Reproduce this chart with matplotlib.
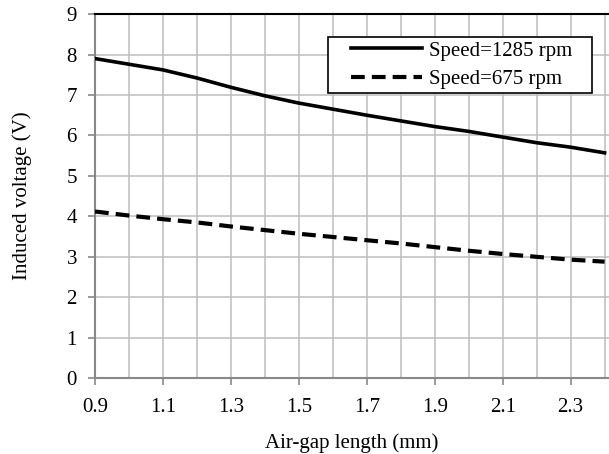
import numpy as np
import matplotlib.pyplot as plt
from matplotlib.lines import Line2D
from matplotlib.legend_handler import HandlerLine2D

gap = [0.9, 1.0, 1.1, 1.2, 1.3, 1.4, 1.5, 1.6, 1.7, 1.8, 1.9, 2.0, 2.1, 2.2, 2.3, 2.4]
v_1285 = [7.90, 7.76, 7.62, 7.42, 7.19, 6.98, 6.80, 6.65, 6.50, 6.36, 6.22, 6.10, 5.96, 5.82, 5.71, 5.57]
v_675 = [4.12, 4.02, 3.93, 3.85, 3.75, 3.66, 3.57, 3.49, 3.41, 3.33, 3.24, 3.15, 3.07, 3.00, 2.93, 2.88]
xticks = [0.9, 1.1, 1.3, 1.5, 1.7, 1.9, 2.1, 2.3]

plt.rcParams['font.family'] = ['Liberation Serif', 'DejaVu Serif']
plt.rcParams['font.size'] = 15

fig = plt.figure(figsize=(6.09, 4.54), dpi=100)
ax = fig.add_axes([0.156, 0.167, 0.844, 0.802])

ax.plot(gap, v_1285, color='black', lw=2.6, label='Speed=1285 rpm', zorder=3)
ax.plot(gap, v_675, color='black', lw=3.0, ls=(0, (3.3, 1.7)), label='Speed=675 rpm', zorder=3)

ax.set_xlim(0.9, 2.413)
ax.set_ylim(0, 9)
ax.set_xticks(xticks)
ax.set_xticklabels(['%.1f' % t for t in xticks])
ax.set_xticks(np.arange(0.9, 2.45, 0.1), minor=True)
ax.set_yticks(range(10))

ax.grid(True, which='both', color='#bdbdbd', lw=1.1, zorder=0)
ax.set_axisbelow(True)
ax.tick_params(which='minor', length=0)
ax.tick_params(which='major', direction='out', length=5, color='#888888', width=1.2)
ax.tick_params(axis='x', pad=9)
ax.tick_params(axis='y', pad=8)

ax.spines['right'].set_visible(False)
ax.spines['top'].set_color('black')
ax.spines['top'].set_linewidth(1.5)
for s in ['left', 'bottom']:
    ax.spines[s].set_color('#888888')
    ax.spines[s].set_linewidth(1.5)

ax.set_xlabel('Air-gap length (mm)', labelpad=12)
ax.set_ylabel('Induced voltage (V)', labelpad=25)

leg = ax.legend(loc='upper right', bbox_to_anchor=(0.967, 0.937), borderaxespad=0,
                fancybox=False, framealpha=1, edgecolor='black',
                handlelength=4.27, borderpad=0.2, labelspacing=0.41, handletextpad=0.35,
                handler_map={Line2D: HandlerLine2D(xpad=0.9)})
for t in leg.get_texts():
    t.set_text(t.get_text() + '   ')
leg.get_frame().set_linewidth(1.2)

fig.savefig('out.png', dpi=100)
